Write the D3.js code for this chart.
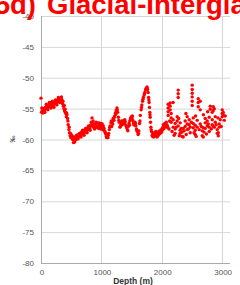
<!DOCTYPE html>
<html>
<head>
<meta charset="utf-8">
<script src="https://cdn.jsdelivr.net/npm/d3@7"></script>
<style>
  body { margin: 0; background: #fff; overflow: hidden; }
  svg { display: block; }
</style>
</head>
<body>
<svg id="chart" width="240" height="285"></svg>
<script>
// depth (m) and isotope value
var depth = [0,8,20,32,45,58,70,82,95,108,120,132,145,158,170,182,195,208,220,232,245,258,270,282,295,308,320,332,345,358,
  370,380,390,400,410,420,430,440,450,462,472,482,495,508,520,532,545,558,570,582,595,608,620,632,645,658,670,682,695,708,
  720,732,745,758,770,782,795,808,820,832,845,858,870,882,895,908,920,932,945,958,970,982,995,1008,1020,1032,1045,1058,1070,1082,
  1095,1108,1120,1132,1145,1158,1170,1182,1195,1208,1220,1232,1245,1258,1270,1282,1295,1308,1320,1332,1345,1358,1370,1382,1395,1408,1420,1432,1445,1458,
  1470,1482,1495,1508,1520,1532,1545,1558,1570,1582,1595,1608,1620,1632,1645,1658,1670,1682,1695,1708,1720,1732,1745,1755,1765,1775,1782,1790,1796,1802,
  1808,1814,1820,1830,1842,1855,1866,1878,1890,1902,1914,1926,1938,1950,1962,1975,1988,2000,2012,2025,2038,2050,2062,2075,2088,2100];
var value = [-53.3,-55.6,-55.3,-55.7,-55.1,-55.4,-54.8,-55.0,-54.6,-54.9,-54.4,-54.7,-54.2,-54.5,-54.0,-54.4,-54.1,-54.6,-53.9,-54.2,-53.8,-54.1,-53.7,-53.5,-53.9,-53.4,-53.7,-53.3,-53.6,-54.2,
  -54.6,-55.0,-55.4,-55.1,-55.8,-56.3,-56.0,-56.6,-57.6,-58.4,-58.9,-59.4,-59.7,-59.3,-59.9,-60.1,-59.6,-60.4,-59.8,-60.0,-59.5,-59.8,-59.2,-59.5,-59.0,-59.3,-58.8,-59.1,-58.7,-59.0,
  -58.5,-58.8,-58.3,-58.6,-58.1,-58.4,-57.9,-58.2,-57.7,-57.2,-56.5,-57.4,-58.0,-57.6,-58.1,-57.5,-57.9,-57.3,-57.8,-58.2,-57.6,-58.0,-57.4,-57.9,-58.3,-57.8,-58.2,-58.7,-59.1,-59.5,
  -59.2,-59.7,-59.0,-58.4,-57.8,-57.3,-57.9,-57.1,-56.6,-56.9,-56.2,-55.7,-55.3,-54.9,-55.6,-56.4,-57.2,-58.0,-57.7,-57.3,-57.6,-57.2,-56.9,-57.4,-57.1,-57.7,-58.1,-58.4,-57.9,-57.4,
  -57.0,-56.6,-56.3,-56.5,-56.9,-57.3,-57.6,-57.2,-57.8,-58.3,-58.7,-59.2,-58.6,-57.4,-56.1,-55.2,-54.4,-53.8,-53.2,-52.8,-52.4,-52.0,-51.7,-51.5,-51.9,-52.4,-53.2,-54.0,-54.8,-55.6,
  -56.4,-57.2,-58.0,-58.7,-59.3,-59.0,-59.6,-58.9,-59.4,-58.7,-59.1,-59.5,-58.8,-59.2,-58.6,-59.0,-58.4,-58.8,-58.1,-57.6,-58.2,-57.4,-57.9,-57.2,-57.7,-58.1];

// second run of samples in the same interval (the band is a few samples wide)
var depth2 = [14,38,64,88,114,138,164,188,214,238,264,288,314,338,364,386,405,425,445,466,488,514,538,564,588,614,638,664,688,714,
  738,764,788,814,838,864,888,914,938,964,988,1014,1038,1064,1088,1114,1138,1164,1188,1214,1238,1264,1288,1314,1338,1364,1388,1414,1438,1464,
  1488,1514,1538,1564,1588,1614,1638,1664,1688,1714,1738,1760,1786,1805,1825,1848,1872,1896,1920,1944,1968,1994,2018,2044,2068,2094];
var value2 = [-54.9,-55.0,-55.6,-54.3,-55.2,-54.0,-54.9,-53.8,-54.8,-53.6,-54.4,-53.2,-54.0,-53.1,-53.8,-54.5,-55.6,-55.7,-57.0,-58.0,-59.0,-59.6,-60.5,-59.9,-59.3,-59.9,-59.0,-59.6,-58.5,-59.3,
  -58.2,-58.9,-57.8,-58.5,-57.8,-57.0,-58.3,-57.2,-58.1,-57.3,-58.3,-57.5,-58.5,-58.9,-59.7,-59.3,-58.0,-57.0,-57.5,-56.4,-55.9,-55.2,-56.9,-57.9,-57.0,-57.4,-56.8,-57.9,-58.6,-57.7,
  -56.8,-56.2,-57.6,-57.5,-58.5,-59.0,-57.0,-54.8,-53.5,-52.6,-51.8,-51.7,-53.6,-56.0,-58.4,-59.5,-59.3,-59.0,-59.6,-59.3,-58.8,-58.6,-58.4,-57.8,-57.5,-57.9];

// scattered deep section, several samples per depth
var deepDepth = [2106,2106,2106,2106,2139,2139,2139,2156,2156,2156,2189,2189,2189,2222,2222,2222,2255,2255,2272,2272,2272,2272,
  2305,2305,2305,2338,2338,2355,2355,2388,2388,2421,2421,2421,2454,2454,2471,2471,2504,2504,2504,2504,2504,2504,2521,2521,2521,
  2554,2554,2554,2587,2587,2604,2604,2604,2637,2637,2637,2670,2670,2687,2687,2720,2720,2720,2753,2753,2786,2786,2786,2803,2803,
  2836,2836,2836,2853,2853,2853,2886,2886,2919,2919,2936,2936,2952,2952,2968,3001,3001,3001,3018,3018,3051,
  2120,2170,2205,2240,2290,2320,2370,2405,2440,2490,2535,2570,2620,2655,2700,2740,2770,2820,2870,2900,2985,3035,
  2130,2280,2400,2560,2690,2760,2870,2930];
var deepValue = [-54.3,-54.9,-55.5,-56.1,-54.1,-54.6,-55.2,-55.8,-56.5,-57.2,-54.0,-56.8,-58.0,-57.4,-58.3,-59.0,-56.3,-57.0,-52.0,-52.6,-53.2,-57.8,
  -58.5,-59.0,-57.3,-58.8,-59.5,-59.6,-58.2,-57.0,-57.9,-56.3,-57.5,-58.4,-56.8,-57.6,-58.0,-58.9,-51.2,-51.9,-52.5,-53.1,-53.8,-54.5,-56.5,-57.4,-58.1,
  -58.5,-59.2,-57.7,-56.9,-58.0,-53.4,-54.0,-54.7,-53.8,-55.2,-57.5,-58.6,-59.4,-59.6,-58.1,-57.3,-58.2,-56.6,-57.0,-57.8,-56.4,-58.0,-58.7,-54.6,-55.1,
  -55.6,-56.8,-57.6,-54.7,-55.3,-57.9,-56.3,-57.2,-58.4,-59.0,-58.9,-59.4,-58.0,-57.5,-56.8,-55.2,-55.8,-56.3,-55.6,-56.0,-56.2,
  -58.3,-58.7,-59.3,-58.0,-59.4,-58.2,-58.6,-59.2,-58.3,-57.2,-58.9,-59.5,-58.4,-57.9,-58.8,-59.1,-57.5,-58.3,-58.0,-57.6,-57.9,-56.9,
  -57.0,-56.6,-55.8,-56.2,-56.0,-55.5,-55.0,-56.5];

var yTicks = [-80, -75, -70, -65, -60, -55, -50, -45, -40];
var xTicks = [0, 1000, 2000, 3000];

function pairs(ds, vs) { return ds.map(function(d, i) { return {d: d, v: vs[i]}; }); }
var points = pairs(depth, value).concat(pairs(depth2, value2), pairs(deepDepth, deepValue));

var svg = d3.select("#chart");
var x = d3.scaleLinear().domain([0, 3130]).range([41, 230]);
var y = d3.scaleLinear().domain([-80, -40]).range([263, 16]);

// grid
svg.append("g").selectAll("line").data(yTicks).enter().append("line")
  .attr("x1", x(0)).attr("x2", x(3130))
  .attr("y1", function(d) { return y(d) + 0.5; }).attr("y2", function(d) { return y(d) + 0.5; })
  .attr("stroke", function(d) { return d === -80 ? "#aaa" : "#d6d6d6"; });
svg.append("g").selectAll("line").data(xTicks).enter().append("line")
  .attr("x1", function(d) { return Math.round(x(d)) + 0.5; }).attr("x2", function(d) { return Math.round(x(d)) + 0.5; })
  .attr("y1", y(-40)).attr("y2", y(-80))
  .attr("stroke", function(d) { return d === 0 ? "#aaa" : "#d6d6d6"; });

// tick labels
svg.append("g").selectAll("text").data(yTicks).enter().append("text")
  .attr("x", 34).attr("y", function(d) { return y(d) + 3; })
  .attr("text-anchor", "end")
  .style("font", "8px 'Liberation Sans', Arial, sans-serif").style("fill", "#555")
  .text(function(d) { return d; });
svg.append("g").selectAll("text").data(xTicks).enter().append("text")
  .attr("x", function(d) { return x(d) + 1; }).attr("y", 275)
  .attr("text-anchor", "middle")
  .style("font", "8px 'Liberation Sans', Arial, sans-serif").style("fill", "#555")
  .text(function(d) { return d; });

// axis titles
svg.append("text")
  .attr("x", 133).attr("y", 284)
  .attr("text-anchor", "middle")
  .style("font", "bold 8.5px 'Liberation Sans', Arial, sans-serif").style("fill", "#333")
  .text("Depth (m)");
svg.append("text")
  .attr("transform", "translate(15,139) rotate(-90)")
  .attr("text-anchor", "middle")
  .style("font", "bold 7px 'Liberation Sans', Arial, sans-serif").style("fill", "#333")
  .text("‰");

// dots
svg.append("g").selectAll("circle").data(points).enter().append("circle")
  .attr("cx", function(p) { return x(p.d); })
  .attr("cy", function(p) { return y(p.v); })
  .attr("r", 1.7)
  .style("fill", "#f00");

// title, cut off by the frame
svg.append("text")
  .attr("x", 36).attr("y", 14)
  .attr("text-anchor", "end")
  .style("font", "bold 27.5px 'Liberation Sans', Arial, sans-serif").style("fill", "#f00")
  .text("5d)");
svg.append("text")
  .attr("x", 47).attr("y", 14)
  .style("font", "bold 27.5px 'Liberation Sans', Arial, sans-serif").style("fill", "#f00")
  .text("Glacial-Interglacial");
</script>
</body>
</html>
